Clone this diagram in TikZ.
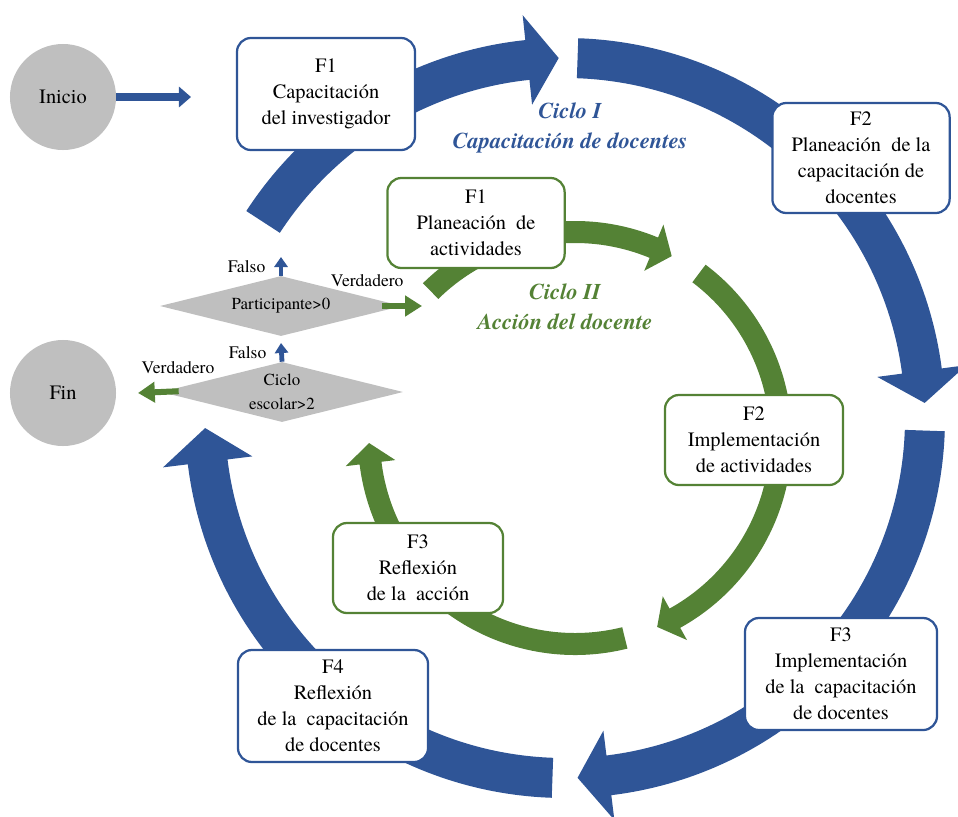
\documentclass[tikz,border=0pt]{standalone}
\usepackage{fontspec}
\setmainfont{texgyretermes}[Extension=.otf, UprightFont=*-regular, BoldFont=*-bold, ItalicFont=*-italic, BoldItalicFont=*-bolditalic]
\usepackage{tikz}
\usetikzlibrary{shapes.geometric,arrows.meta,positioning}
\definecolor{azul}{RGB}{47,85,151}
\definecolor{verde}{RGB}{84,130,53}
\definecolor{gris}{RGB}{191,191,191}
\tikzstyle{fase azul} = [rectangle, rounded corners=0.35cm, draw=azul, line width=1.6pt, fill=white, inner sep=2pt, align=center, font=\fontsize{14.5}{18.5}\selectfont]
\tikzstyle{fase verde} = [rectangle, rounded corners=0.35cm, draw=verde, line width=1.6pt, fill=white, inner sep=2pt, align=center, font=\fontsize{14.5}{18.5}\selectfont]
\tikzstyle{estado} = [circle, fill=gris, minimum size=2.65cm, font=\fontsize{14.5}{18.5}\selectfont]
\tikzstyle{decision} = [diamond, aspect=4, fill=gris, inner sep=0pt, minimum width=6.05cm, minimum height=1.5cm, align=center, font=\fontsize{12}{17}\selectfont]
\tikzstyle{etiqueta} = [inner sep=1pt, font=\fontsize{12.5}{14}\selectfont]
\tikzstyle{titulo} = [align=center, font=\fontsize{16}{21}\selectfont\bfseries\itshape]
\tikzstyle{flecha inicio} = [azul, line width=0.18cm, -{Triangle[length=0.3cm, width=0.5cm]}]
\tikzstyle{flecha si} = [verde, line width=0.15cm, -{Triangle[length=0.42cm, width=0.5cm]}]
\tikzstyle{flecha no} = [azul, line width=0.12cm, -{Triangle[length=0.25cm, width=0.33cm]}]
% arco con punta: color, radio, medio ancho, medio ancho de punta, inicio, base de punta, punta
\newcommand{\flechaarco}[7]{%
  \pgfmathsetmacro{\radA}{#2+#3}%
  \pgfmathsetmacro{\radB}{#2-#3}%
  \pgfmathsetmacro{\radC}{#2+#4}%
  \pgfmathsetmacro{\radD}{#2-#4}%
  \fill[#1] (#5:\radA) arc[start angle=#5, end angle=#6, radius=\radA] -- (#6:\radC) -- (#7:#2) -- (#6:\radD) -- (#6:\radB) arc[start angle=#6, end angle=#5, radius=\radB] -- cycle;
}

\begin{document}
\begin{tikzpicture}[x=0.025cm, y=-0.025cm]
	\useasboundingbox (0,0) rectangle (958,816);
	\coordinate (inicio) at (63,97);
	\coordinate (fin) at (63,393);
	\coordinate (capinv) at (326,94);
	\coordinate (plancap) at (861,158);
	\coordinate (implcap) at (841,674);
	\coordinate (reflcap) at (333,706);
	\coordinate (planact) at (476,223);
	\coordinate (implact) at (754,440);
	\coordinate (reflacc) at (418,568);
	\coordinate (partic) at (281,306);
	\coordinate (cicloesc) at (282,392);
	\coordinate (entrada) at (191,97);
	\coordinate (siA) at (422,306);
	\coordinate (siB) at (138,393);
	\coordinate (noA) at (281,257);
	\coordinate (noB) at (281,343);
	% Ciclo I
	\begin{scope}[shift={(565,418)}, yscale=-1]
	\flechaarco{azul}{360}{20}{45}{147}{96}{91}
	\flechaarco{azul}{360}{20}{45}{88}{7.5}{2.4}
	\flechaarco{azul}{360}{20}{45}{-2}{-83}{-88}
	\flechaarco{azul}{360}{20}{45}{-92}{-173}{-178.4}
	\end{scope}
	% Ciclo II
	\begin{scope}[shift={(575,438)}, yscale=-1]
	\flechaarco{verde}{206}{11}{25}{134.5}{67.5}{62}
	\flechaarco{verde}{206}{11}{25}{53}{-61}{-66.5}
	\flechaarco{verde}{206}{11}{25}{-76}{-173}{-178.6}
	\end{scope}
	% Inicio y fin
	\node[estado, name=inicio] at (inicio) {Inicio};
	\node[estado, name=fin] at (fin) {Fin};
	% Fases del ciclo I
	\begin{scope}[every node/.style={fase azul}]
	\node[name=capinv, minimum width=4.45cm, minimum height=2.8cm] at (capinv) {F1\\Capacitación\\del investigador};
	\node[name=plancap, minimum width=4.43cm, minimum height=2.75cm] at (plancap) {F2\\Planeación \ de la\\capacitación de\\docentes};
	\node[name=implcap, minimum width=4.8cm, minimum height=2.8cm] at (implcap) {F3\\Implementación\\de la \ capacitación\\de docentes};
	\node[name=reflcap, minimum width=4.75cm, minimum height=2.8cm] at (reflcap) {F4\\Reflexión\\de la \ capacitación\\de docentes};
	\end{scope}
	% Fases del ciclo II
	\begin{scope}[every node/.style={fase verde, minimum height=2.25cm}]
	\node[name=planact, minimum width=4.43cm] at (planact) {F1\\Planeación \ de\\actividades};
	\node[name=implact, minimum width=4.45cm] at (implact) {F2\\Implementación\\de actividades};
	\node[name=reflacc, minimum width=4.25cm] at (reflacc) {F3\\Reflexión\\de la \ acción};
	\end{scope}
	% Decisiones
	\node[decision, name=partic] at (partic) {Participante>0};
	\node[decision, name=cicloesc] at (cicloesc) {Ciclo\\escolar>2};
	\draw [flecha inicio] (inicio)--(entrada);
	\draw [flecha si, shorten <=-0.5cm] (partic.east)--(siA);
	\draw [flecha si, shorten <=-0.45cm] (cicloesc.west)--(siB);
	\draw [flecha no] (partic.north)--(noA);
	\draw [flecha no] (cicloesc.north)--(noB);
	\node[etiqueta, above left=0.025cm and 0.35cm of partic.north] {Falso};
	\node[etiqueta, above left=0.025cm and 0.35cm of cicloesc.north] {Falso};
	\node[etiqueta, above left=0.45cm and 0.42cm of siA] {Verdadero};
	\node[etiqueta, above right=0.45cm and 0.05cm of siB] {Verdadero};
	% Titulos
	\node[titulo, text=azul] at (570,128) {Ciclo I\\Capacitación de docentes};
	\node[titulo, text=verde] at (565,307) {Ciclo II\\Acción del docente};
\end{tikzpicture}
\end{document}
